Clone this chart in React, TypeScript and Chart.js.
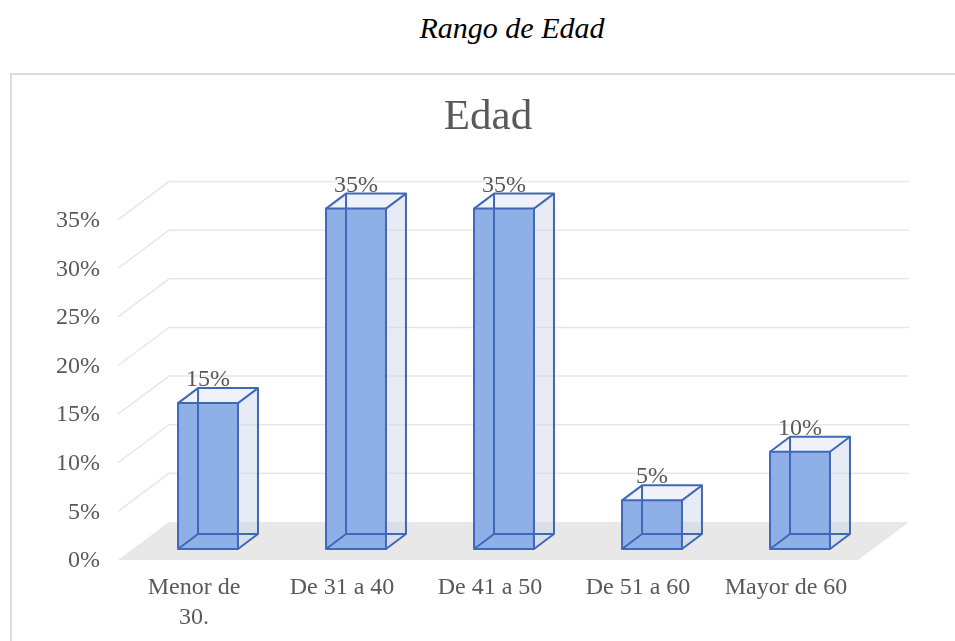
import React, { useEffect, useRef } from "react";
import { Chart, registerables } from "chart.js";

Chart.register(...registerables);

// ---- data ----
const categories: (string | string[])[] = [["Menor de", "30."], "De 31 a 40", "De 41 a 50", "De 51 a 60", "Mayor de 60"];
const values: number[] = [15, 35, 35, 5, 10];
const yMin = 0;
const yMax = 35;
const yStep = 5;
const pageTitle = "Rango de Edad";
const chartTitle = "Edad";

// ---- style ----
const FONT = '"Liberation Serif", "Times New Roman", serif';
const TEXT = "#595959";
const FRONT = { dx: -16, dy: 11 };
const BACK = { dx: 35, dy: -27 };
const DEPTH = { dx: 20, dy: -15 };
const EDGE = "#4068b8";

const threeD = {
  id: "threeD",
  beforeDatasetsDraw(chart: any) {
    const { ctx, chartArea, scales } = chart;
    const ys = scales.y;
    const l = chartArea.left;
    const r = chartArea.right;
    const y0 = ys.getPixelForValue(0);
    ctx.save();
    ctx.fillStyle = "#e8e8e8";
    ctx.beginPath();
    ctx.moveTo(l + FRONT.dx, y0 + FRONT.dy);
    ctx.lineTo(r + FRONT.dx, y0 + FRONT.dy);
    ctx.lineTo(r + BACK.dx, y0 + BACK.dy);
    ctx.lineTo(l + BACK.dx, y0 + BACK.dy);
    ctx.closePath();
    ctx.fill();
    ctx.strokeStyle = "#e7e7e7";
    ctx.lineWidth = 1.5;
    for (const t of ys.ticks) {
      if (t.value === 0) continue;
      const py = ys.getPixelForValue(t.value);
      ctx.beginPath();
      ctx.moveTo(l + FRONT.dx, py + FRONT.dy);
      ctx.lineTo(l + BACK.dx, py + BACK.dy);
      ctx.lineTo(r + BACK.dx, py + BACK.dy);
      ctx.stroke();
    }
    ctx.restore();
  },
  afterDatasetsDraw(chart: any) {
    const { ctx } = chart;
    const meta = chart.getDatasetMeta(0);
    const data = chart.data.datasets[0].data as number[];
    ctx.save();
    meta.data.forEach((bar: any, i: number) => {
      const p = bar.getProps(["x", "y", "base", "width"], true);
      const x0 = p.x - p.width / 2;
      const x1 = p.x + p.width / 2;
      const yt = p.y;
      const yb = p.base;
      const dx = DEPTH.dx;
      const dy = DEPTH.dy;
      // right side face
      ctx.fillStyle = "rgba(200,210,230,0.45)";
      ctx.beginPath();
      ctx.moveTo(x1, yt);
      ctx.lineTo(x1 + dx, yt + dy);
      ctx.lineTo(x1 + dx, yb + dy);
      ctx.lineTo(x1, yb);
      ctx.closePath();
      ctx.fill();
      // top face
      ctx.fillStyle = "rgba(215,222,238,0.4)";
      ctx.beginPath();
      ctx.moveTo(x0, yt);
      ctx.lineTo(x0 + dx, yt + dy);
      ctx.lineTo(x1 + dx, yt + dy);
      ctx.lineTo(x1, yt);
      ctx.closePath();
      ctx.fill();
      // edges
      ctx.strokeStyle = EDGE;
      ctx.lineWidth = 2;
      ctx.lineJoin = "round";
      ctx.strokeRect(x0, yt, x1 - x0, yb - yt);
      ctx.strokeRect(x0 + dx, yt + dy, x1 - x0, yb - yt);
      ctx.beginPath();
      for (const [cx, cy] of [[x0, yt], [x1, yt], [x0, yb], [x1, yb]]) {
        ctx.moveTo(cx, cy);
        ctx.lineTo(cx + dx, cy + dy);
      }
      ctx.stroke();
      // data label
      ctx.fillStyle = TEXT;
      ctx.font = `24px ${FONT}`;
      ctx.textAlign = "center";
      ctx.textBaseline = "alphabetic";
      ctx.fillText(`${data[i]}%`, p.x, yt - 17);
    });
    ctx.restore();
  },
};

export default function App() {
  const ref = useRef<HTMLCanvasElement>(null);
  useEffect(() => {
    if (!ref.current) return;
    const chart = new Chart(ref.current, {
      type: "bar",
      data: {
        labels: categories as any,
        datasets: [
          {
            data: values,
            backgroundColor: "#8fb0e6",
            borderWidth: 0,
            barPercentage: 0.81,
            categoryPercentage: 0.5,
          },
        ],
      },
      options: {
        responsive: false,
        animation: false,
        devicePixelRatio: 1,
        layout: { padding: { left: 40, right: 19, top: 0, bottom: 12 } },
        plugins: {
          legend: { display: false },
          tooltip: { enabled: false },
          title: {
            display: true,
            text: chartTitle,
            color: TEXT,
            font: { family: FONT, size: 43, weight: "normal" as any },
            padding: { top: 16, bottom: 65 },
          },
        },
        scales: {
          x: {
            grid: { display: false, drawTicks: false },
            border: { display: false },
            ticks: {
              color: TEXT,
              font: { family: FONT, size: 24, lineHeight: 1.25 },
              padding: 24,
              labelOffset: -14,
              maxRotation: 0,
              autoSkip: false,
            },
            afterFit: (s: any) => {
              s.height = 80;
            },
          },
          y: {
            min: yMin,
            max: yMax,
            grid: { display: false, drawTicks: false },
            border: { display: false },
            ticks: {
              stepSize: yStep,
              color: TEXT,
              font: { family: FONT, size: 24 },
              padding: 34,
              labelOffset: 12,
              callback: (v: any) => `${v}%`,
            },
            afterFit: (s: any) => {
              s.width = 94;
            },
          },
          yRight: {
            type: "linear",
            position: "right",
            display: true,
            min: yMin,
            max: yMax,
            grid: { display: false, drawTicks: false },
            border: { display: false },
            ticks: { display: false },
            afterFit: (s: any) => {
              s.width = 62;
            },
          },
        },
      },
      plugins: [threeD],
    });
    return () => chart.destroy();
  }, []);

  return (
    <div style={{ position: "fixed", left: 0, top: 0, width: 955, height: 641, overflow: "hidden", background: "#fff" }}>
      <div
        style={{
          position: "absolute",
          left: 412,
          top: 13,
          width: 200,
          textAlign: "center",
          whiteSpace: "nowrap",
          fontFamily: FONT,
          fontStyle: "italic",
          fontSize: 30,
          lineHeight: "30px",
          color: "#000",
        }}
      >
        {pageTitle}
      </div>
      <div
        style={{
          position: "absolute",
          left: 10,
          top: 73,
          width: 1000,
          height: 700,
          border: "2px solid #dcdcdc",
        }}
      />
      <canvas ref={ref} width={955} height={565} style={{ position: "absolute", left: 0, top: 76 }} />
    </div>
  );
}
